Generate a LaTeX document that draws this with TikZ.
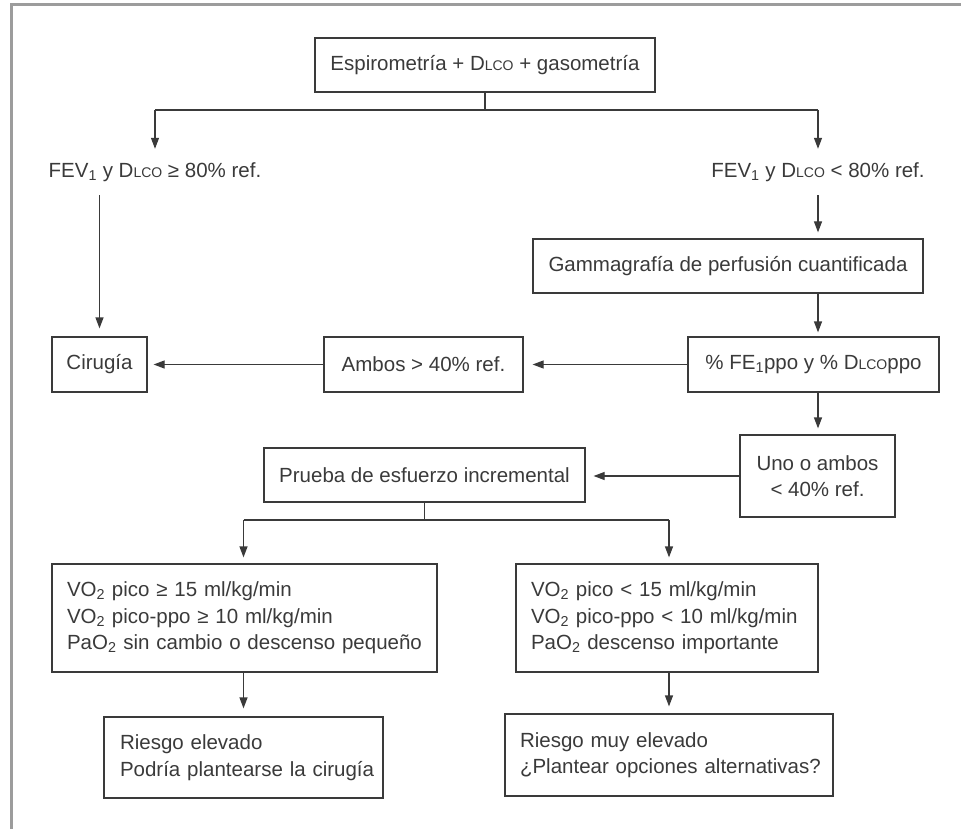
\documentclass[tikz,border=0pt]{standalone}
\usepackage{fontspec}
\setmainfont{Liberation Sans}
\usetikzlibrary{arrows.meta}
\definecolor{ink}{HTML}{3A3A3A}
\definecolor{framegray}{HTML}{9C9C9C}
% D with small-capital LCO
\newcommand{\dlco}{D{\fontsize{14}{14}\selectfont LCO}}
\begin{document}
\begin{tikzpicture}[x=1pt,y=-1pt,
  every node/.style={font=\fontsize{20.5}{26.5}\selectfont, text=ink},
  box/.style={draw=ink, line width=1.2pt, inner sep=0pt, align=center},
  listbox/.style={draw=ink, line width=1.2pt, inner sep=0pt, align=left},
  label/.style={inner sep=0pt, minimum height=46pt},
  link/.style={draw=ink, line width=1.2pt},
  arr/.style={draw=ink, line width=1.2pt, -{Triangle[length=11pt,width=8pt]}, shorten >=6pt}]
\useasboundingbox (0,0) rectangle (961,829);

% outer frame (top and left edges)
\draw[framegray, line width=3pt] (11.5,829) -- (11.5,5) -- (961,5);

% nodes
\node[box, minimum width=340pt, minimum height=54pt] (top) at (485,65)
  {Espirometría + \dlco{} + gasometría};
\node[label] (fevL) at (155,172) {FEV\textsubscript{1} y \dlco{} ≥ 80\% ref.};
\node[label] (fevR) at (818,172) {FEV\textsubscript{1} y \dlco{} < 80\% ref.};
\node[box, minimum width=390pt, minimum height=54pt] (gam) at (728,266)
  {Gammagrafía de perfusión cuantificada};
\node[box, minimum width=95pt, minimum height=55pt] (cir) at (99.5,364.5) {Cirugía};
\node[box, minimum width=199pt, minimum height=55pt] (amb) at (423.5,364.5) {Ambos > 40\% ref.};
\node[box, minimum width=251pt, minimum height=55pt] (fe) at (813.5,364.5)
  {\% FE\textsubscript{1}ppo y \% \dlco ppo};
\node[box, minimum width=155pt, minimum height=82pt] (uno) at (817.5,476)
  {Uno o ambos\\< 40\% ref.};
\node[box, minimum width=321pt, minimum height=54pt] (pru) at (424.5,475)
  {Prueba de esfuerzo incremental};
\node[listbox, minimum width=385pt, minimum height=108pt, text width=355pt] (vl) at (244.5,618)
  {\mbox{VO\textsubscript{2} pico ≥ 15 ml/kg/min}\\
   \mbox{VO\textsubscript{2} pico-ppo ≥ 10 ml/kg/min}\\
   \mbox{PaO\textsubscript{2} sin cambio o descenso pequeño}};
\node[listbox, minimum width=302pt, minimum height=108pt, text width=272pt] (vr) at (667,618)
  {\mbox{VO\textsubscript{2} pico < 15 ml/kg/min}\\
   \mbox{VO\textsubscript{2} pico-ppo < 10 ml/kg/min}\\
   \mbox{PaO\textsubscript{2} descenso importante}};
\node[listbox, minimum width=279pt, minimum height=81pt, text width=247pt] (rl) at (243.5,757.5)
  {\mbox{Riesgo elevado}\\\mbox{Podría plantearse la cirugía}};
\node[listbox, minimum width=328pt, minimum height=82pt, text width=298pt] (rr) at (669,755)
  {\mbox{Riesgo muy elevado}\\\mbox{¿Plantear opciones alternativas?}};

% branch points
\coordinate (j1) at (485,110);
\coordinate (j2) at (424.5,520);
\coordinate (col) at (818,0);

% connectors
\draw[link] (top.south) -- (j1);
\draw[link] (j1 -| fevL) -- (j1 -| fevR);
\draw[arr, shorten >=0pt] (j1 -| fevL) -- (fevL.north);
\draw[arr, shorten >=0pt] (j1 -| fevR) -- (fevR.north);
\draw[arr, shorten >=8pt] (fevL.south -| cir) -- (cir.north);
\draw[arr] (fevR.south) -- (gam.north -| col);
\draw[arr, shorten >=4pt] (gam.south -| col) -- (fe.north -| col);
\draw[arr] (fe.south -| col) -- (uno.north -| col);
\draw[arr, shorten >=9pt] (fe.west) -- (amb.east);
\draw[arr] (amb.west) -- (cir.east);
\draw[arr, shorten >=8pt] (uno.west) -- (uno.west -| pru.east);
\draw[link] (pru.south) -- (j2);
\draw[link] (j2 -| rl) -- (j2 -| rr);
\draw[arr] (j2 -| rl) -- (vl.north -| rl);
\draw[arr] (j2 -| rr) -- (vr.north -| rr);
\draw[arr, shorten >=8pt] (vl.south -| rl) -- (rl.north);
\draw[arr, shorten >=7pt] (vr.south -| rr) -- (rr.north);
\end{tikzpicture}
\end{document}
